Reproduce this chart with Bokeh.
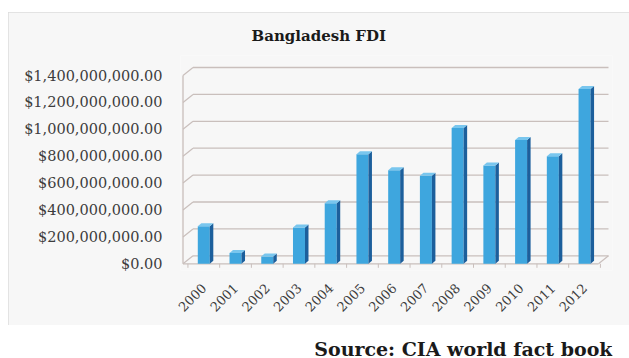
from math import pi

import numpy as np
from bokeh.embed import file_html
from bokeh.layouts import column
from bokeh.models import FixedTicker, Label, NumeralTickFormatter, Range1d, Title
from bokeh.plotting import figure
from bokeh.resources import INLINE

# Foreign direct investment into Bangladesh, US dollars (millions)
years = ["2000", "2001", "2002", "2003", "2004", "2005", "2006",
         "2007", "2008", "2009", "2010", "2011", "2012"]
fdi_musd = [280, 80, 55, 270, 450, 815, 695, 655, 1010, 730, 920, 800, 1300]
y_ticks = [0, 200e6, 400e6, 600e6, 800e6, 1000e6, 1200e6, 1400e6]

values = np.array(fdi_musd, dtype=float) * 1e6
xs = np.arange(len(years), dtype=float)

# pixel scale of the plotting frame (used to express the 3-D offsets)
PX_X = 31.73               # pixels per category
PX_Y = 26.9 / 200e6        # pixels per dollar

bar_w = 12 / PX_X
side_dx, side_dy = 3.5 / PX_X, 3 / PX_Y      # bar depth
wall_dx, wall_dy = 10 / PX_X, 8 / PX_Y       # back wall offset

x_start = -23.3 / PX_X
x_end = x_start + 432 / PX_X
y_start = -6.7 / PX_Y
y_end = 208.3 / PX_Y

FRONT = "#3ea6de"
SIDE = "#1c5f9c"
TOP = "#79c6ee"
GRID = "#c9bfbc"
BOX_BG = "#f7f7f7"
SERIF = "DejaVu Serif"

p = figure(width=621, height=313, x_range=Range1d(x_start, x_end),
           y_range=Range1d(y_start, y_end),
           output_backend="svg", toolbar_location=None,
           min_border_left=172, min_border_right=17,
           min_border_top=43, min_border_bottom=55,
           background_fill_color=BOX_BG, border_fill_color=BOX_BG,
           outline_line_color=None, margin=(12, 0, 0, 8))
p.styles = {"outline": "1px solid #dcdcdc", "outline-offset": "-1px"}
p.grid.visible = False

p.title = Title(text="Bangladesh  FDI", align="left", offset=71, standoff=21,
                text_font=SERIF, text_font_style="bold",
                text_font_size="15px", text_color="#1a1a1a")

# axes
p.yaxis.ticker = FixedTicker(ticks=y_ticks)
p.yaxis.formatter = NumeralTickFormatter(format="$0,0.00")
p.yaxis.axis_line_color = None
p.yaxis.major_tick_line_color = None
p.yaxis.minor_tick_line_color = None
p.yaxis.major_label_standoff = 12
p.yaxis.major_label_text_font = SERIF
p.yaxis.major_label_text_font_size = "14.5px"
p.yaxis.major_label_text_color = "#3d3d3d"

p.xaxis.ticker = FixedTicker(ticks=list(xs))
p.xaxis.major_label_overrides = {int(i): y for i, y in zip(xs, years)}
p.xaxis.axis_line_color = None
p.xaxis.major_tick_line_color = None
p.xaxis.minor_tick_line_color = None
p.xaxis.major_label_orientation = pi / 4
p.xaxis.major_label_standoff = 9
p.xaxis.major_label_text_font = SERIF
p.xaxis.major_label_text_font_size = "13px"
p.xaxis.major_label_text_color = "#3d3d3d"

# walls and floor
ax_x = x_start + 2.5 / PX_X
floor_r = x_start + 418 / PX_X
grid_l, grid_r = ax_x + wall_dx, floor_r + wall_dx
n_t = len(y_ticks)
p.segment(x0=[grid_l] * n_t, y0=[t + wall_dy for t in y_ticks],
          x1=[grid_r] * n_t, y1=[t + wall_dy for t in y_ticks],
          line_color=GRID, line_width=1.3)
p.segment(x0=[ax_x] * n_t, y0=y_ticks, x1=[grid_l] * n_t,
          y1=[t + wall_dy for t in y_ticks], line_color=GRID, line_width=1.3)
p.segment(x0=[ax_x], y0=[0], x1=[ax_x], y1=[y_ticks[-1]],
          line_color=GRID, line_width=1.3)
p.segment(x0=[ax_x, floor_r], y0=[0, 0], x1=[floor_r, grid_r], y1=[0, wall_dy],
          line_color=GRID, line_width=1.3)
bounds = np.arange(-0.5, len(years), 1.0)
p.segment(x0=bounds, y0=[0] * len(bounds), x1=bounds,
          y1=[-4 / PX_Y] * len(bounds), line_color=GRID, line_width=1)

# bars: front face, right side face, top face
p.vbar(x=xs, top=values, bottom=0, width=bar_w, fill_color=FRONT,
       line_color=None)
hw = bar_w / 2
side_x = [[x + hw, x + hw + side_dx, x + hw + side_dx, x + hw] for x in xs]
side_y = [[0, side_dy, v + side_dy, v] for v in values]
p.patches(side_x, side_y, fill_color=SIDE, line_color=None)
top_x = [[x - hw, x + hw, x + hw + side_dx, x - hw + side_dx] for x in xs]
top_y = [[v, v, v + side_dy, v + side_dy] for v in values]
p.patches(top_x, top_y, fill_color=TOP, line_color=None)

# source line under the chart
src = figure(width=629, height=33, x_range=Range1d(0, 629), y_range=Range1d(0, 33),
             output_backend="svg", toolbar_location=None, min_border=0,
             outline_line_color=None, background_fill_color="white",
             border_fill_color="white")
src.axis.visible = False
src.grid.visible = False
src.add_layout(Label(x=629, y=10, text="Source: CIA world fact book",
                     text_align="right", text_baseline="middle",
                     text_font=SERIF, text_font_style="bold",
                     text_font_size="19px", text_color="#1a1a1a"))

layout = column(p, src, spacing=0)
open("out.html", "w").write(file_html(layout, INLINE))
